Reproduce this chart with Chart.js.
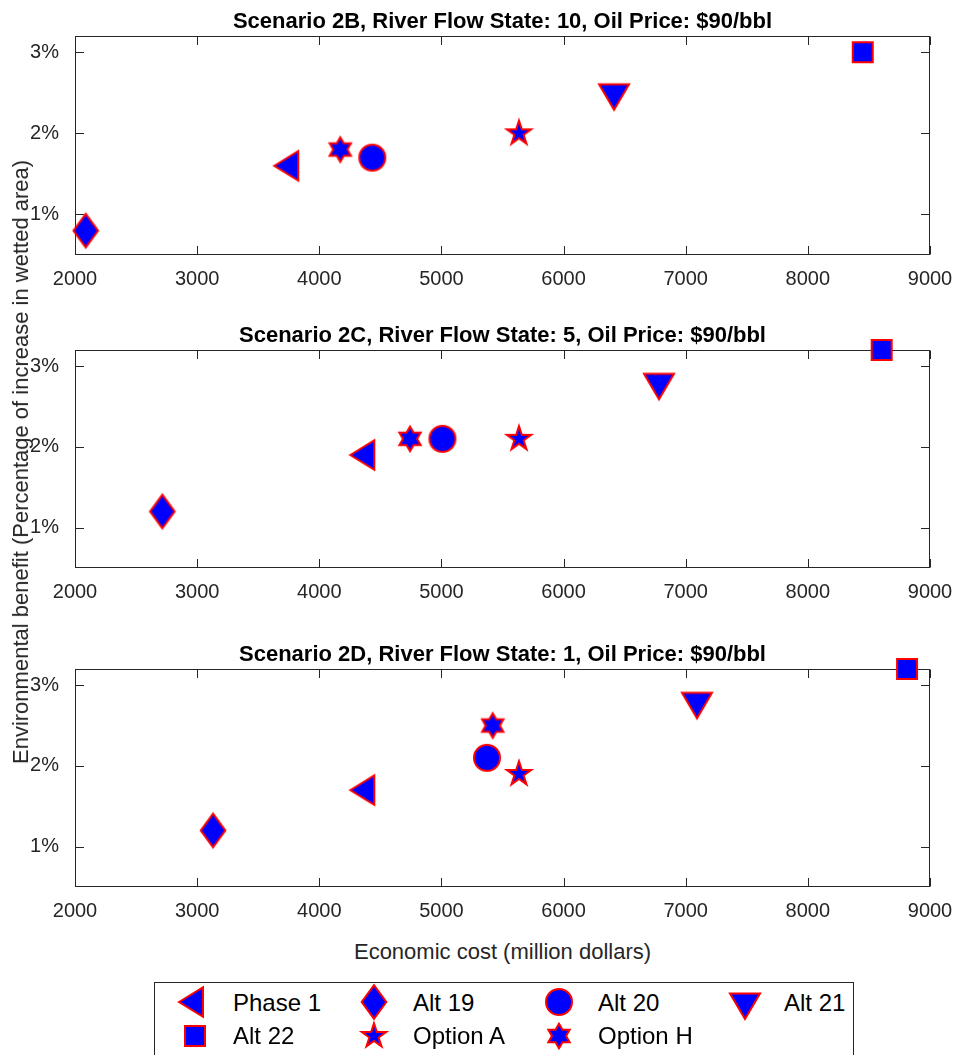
<!DOCTYPE html>
<html>
<head>
<meta charset="utf-8">
<script src="https://cdn.jsdelivr.net/npm/chart.js@4.4.1/dist/chart.umd.min.js"></script>
<style>
html,body{margin:0;padding:0;background:#fff;overflow:hidden;width:959px;height:1055px;}
#wrap{position:relative;width:959px;height:1055px;overflow:hidden;font-family:"Liberation Sans",Arial,Helvetica,sans-serif;}
canvas.panel{position:absolute;left:0;}
.ylab{position:absolute;left:21px;top:462px;transform:translate(-50%,-50%) rotate(-90deg);font-size:22px;color:#262626;white-space:nowrap;line-height:22px;}
.xlab{position:absolute;left:502.5px;top:941px;transform:translateX(-50%);font-size:22px;color:#262626;white-space:nowrap;line-height:22px;}
#legend{position:absolute;left:154px;top:982px;width:700px;height:90px;border:1px solid #262626;background:#fff;box-sizing:border-box;}
.lgtext{position:absolute;font-size:24px;line-height:24px;color:#000;white-space:nowrap;}
.lgmark{position:absolute;}
</style>
</head>
<body>
<div id="wrap">
  <canvas id="c0" class="panel"></canvas>
  <canvas id="c1" class="panel"></canvas>
  <canvas id="c2" class="panel"></canvas>
  <div class="ylab" id="ylab"></div>
  <div class="xlab" id="xlab"></div>
  <div id="legend"></div>
</div>
<script>
// ---------------- data ----------------
const seriesNames = ['Phase 1', 'Alt 19', 'Alt 20', 'Alt 21', 'Alt 22', 'Option A', 'Option H'];
const panelTitles = [
  'Scenario 2B, River Flow State: 10, Oil Price: $90/bbl',
  'Scenario 2C, River Flow State: 5, Oil Price: $90/bbl',
  'Scenario 2D, River Flow State: 1, Oil Price: $90/bbl'
];
// Economic cost (million dollars), in series order
const costB = [3762, 2088, 4434, 6413, 8449, 5635, 4172];
const costC = [4385, 2715, 5008, 6781, 8604, 5635, 4743];
const costD = [4385, 3130, 5373, 7092, 8812, 5635, 5420];
// Environmental benefit (%), in series order
const benefitB = [1.6, 0.8, 1.7, 2.5, 3.0, 2.0, 1.8];
const benefitC = [1.9, 1.2, 2.1, 2.8, 3.2, 2.1, 2.1];
const benefitD = [1.7, 1.2, 2.1, 2.8, 3.2, 1.9, 2.5];
const xTicks = [2000, 3000, 4000, 5000, 6000, 7000, 8000, 9000];
const yTicks = [1, 2, 3];
const xRange = [2000, 9000];
const yRange = [0.5, 3.2];
const xLabel = 'Economic cost (million dollars)';
const yLabel = 'Environmental benefit (Percentage of increase in wetted area)';

// ---------------- styling ----------------
const FONT = '"Liberation Sans", Arial, Helvetica, sans-serif';
const AXIS_COLOR = '#262626';
const markerKinds = ['triLeft', 'diamond', 'circle', 'triDown', 'square', 'pentagram', 'hexagram'];

function starPath(g, n, R, r) {
  for (let i = 0; i < 2 * n; i++) {
    const ang = -Math.PI / 2 + i * Math.PI / n;
    const rad = (i % 2 === 0) ? R : r;
    const px = rad * Math.cos(ang), py = rad * Math.sin(ang);
    if (i === 0) g.moveTo(px, py); else g.lineTo(px, py);
  }
  g.closePath();
}

function makeMarker(kind) {
  const S = 46;
  const c = document.createElement('canvas');
  c.width = S; c.height = S;
  const g = c.getContext('2d');
  g.translate(S / 2, S / 2);
  g.beginPath();
  if (kind === 'circle') {
    g.arc(0, 0, 13, 0, Math.PI * 2);
  } else if (kind === 'square') {
    g.rect(-10, -10, 20, 20);
  } else if (kind === 'diamond') {
    g.moveTo(0, -16.8); g.lineTo(12.3, 0); g.lineTo(0, 16.8); g.lineTo(-12.3, 0); g.closePath();
  } else if (kind === 'triLeft') {
    const w = 24, h = 14.8;
    g.moveTo(-2 * w / 3, 0); g.lineTo(w / 3, -h); g.lineTo(w / 3, h); g.closePath();
  } else if (kind === 'triDown') {
    const hw = 15, ht = 25.5;
    g.moveTo(-hw, -ht / 3); g.lineTo(hw, -ht / 3); g.lineTo(0, 2 * ht / 3); g.closePath();
  } else if (kind === 'pentagram') {
    starPath(g, 5, 12.8, 12.8 * 0.382);
  } else if (kind === 'hexagram') {
    starPath(g, 6, 12.3, 12.3 / Math.sqrt(3));
  }
  g.fillStyle = '#0000ff';
  g.fill();
  g.lineJoin = 'miter';
  g.miterLimit = 10;
  g.lineWidth = 2;
  g.strokeStyle = '#ff0000';
  g.stroke();
  return c;
}
const markerImages = markerKinds.map(makeMarker);

// ---------------- plugin: MATLAB-style box, inward ticks, title ----------------
const framePlugin = {
  id: 'matlabFrame',
  beforeDatasetsDraw(chart) {
    const {ctx, chartArea: a, scales: {x, y}} = chart;
    const L = Math.round(a.left) + 0.5, R = Math.round(a.right) - 0.5;
    const T = Math.round(a.top) + 0.5, B = Math.round(a.bottom) - 0.5;
    const tl = 8.5;
    ctx.save();
    ctx.strokeStyle = AXIS_COLOR;
    ctx.lineWidth = 1;
    ctx.beginPath();
    x.ticks.forEach(t => {
      const px = Math.round(x.getPixelForValue(t.value)) + 0.5;
      ctx.moveTo(px, B); ctx.lineTo(px, B - tl);
      ctx.moveTo(px, T); ctx.lineTo(px, T + tl);
    });
    y.ticks.forEach(t => {
      const py = Math.round(y.getPixelForValue(t.value)) + 0.5;
      ctx.moveTo(L, py); ctx.lineTo(L + tl, py);
      ctx.moveTo(R, py); ctx.lineTo(R - tl, py);
    });
    ctx.stroke();
    ctx.strokeRect(L, T, R - L, B - T);
    ctx.restore();
  },
  afterDraw(chart, args, opts) {
    const {ctx, chartArea: a} = chart;
    ctx.save();
    ctx.font = 'bold 22px ' + FONT;
    ctx.fillStyle = '#000';
    ctx.textAlign = 'center';
    ctx.textBaseline = 'alphabetic';
    ctx.fillText(opts.text, (a.left + a.right) / 2, a.top - 8.5);
    ctx.restore();
  }
};

Chart.defaults.font.family = FONT;
Chart.defaults.color = AXIS_COLOR;

const panels = [
  {cost: costB, benefit: benefitB, title: panelTitles[0], top: 0,   height: 300, padTop: 36},
  {cost: costC, benefit: benefitC, title: panelTitles[1], top: 300, height: 313, padTop: 50},
  {cost: costD, benefit: benefitD, title: panelTitles[2], top: 613, height: 319, padTop: 56}
];

panels.forEach((p, i) => {
  const cv = document.getElementById('c' + i);
  cv.width = 970; cv.height = p.height;
  cv.style.width = '970px'; cv.style.height = p.height + 'px';
  cv.style.top = p.top + 'px';
  const datasets = seriesNames.map((name, k) => ({
    label: name,
    data: [{x: p.cost[k], y: p.benefit[k]}],
    pointStyle: markerImages[k],
    pointRadius: 14,
    pointHoverRadius: 14,
    clip: false
  }));
  new Chart(cv, {
    type: 'scatter',
    data: {datasets},
    plugins: [framePlugin],
    options: {
      responsive: false,
      animation: false,
      events: [],
      devicePixelRatio: 1,
      layout: {padding: {top: p.padTop, left: 0, right: 40, bottom: 0}},
      plugins: {
        legend: {display: false},
        tooltip: {enabled: false},
        title: {display: false},
        matlabFrame: {text: p.title}
      },
      scales: {
        x: {
          type: 'linear',
          min: xRange[0], max: xRange[1],
          grid: {display: false},
          border: {display: false},
          afterBuildTicks: s => { s.ticks = xTicks.map(v => ({value: v})); },
          afterFit: s => { s.height = 45; },
          ticks: {
            font: {size: 20},
            color: AXIS_COLOR,
            padding: 4,
            maxRotation: 0,
            autoSkip: false,
            callback: v => String(v)
          }
        },
        y: {
          type: 'linear',
          min: yRange[0], max: yRange[1],
          grid: {display: false},
          border: {display: false},
          afterBuildTicks: s => { s.ticks = yTicks.map(v => ({value: v})); },
          afterFit: s => { s.width = 75; },
          ticks: {
            font: {size: 20},
            color: AXIS_COLOR,
            padding: 8,
            autoSkip: false,
            callback: v => v + '%'
          }
        }
      }
    }
  });
});

document.getElementById('ylab').textContent = yLabel;
document.getElementById('xlab').textContent = xLabel;

// ---------------- legend ----------------
const legend = document.getElementById('legend');
const lgLeft = 154, lgTop = 982;
const markerCX = [194.5, 373.5, 559, 744.5];
const textX = [233, 413, 598, 784];
const rowCY = [1002, 1036];
const rowTextCY = [1003, 1036];
seriesNames.forEach((name, k) => {
  const col = k % 4, row = Math.floor(k / 4);
  const src = markerImages[k];
  const m = document.createElement('canvas');
  m.width = src.width; m.height = src.height;
  m.getContext('2d').drawImage(src, 0, 0);
  m.className = 'lgmark';
  m.style.left = (markerCX[col] - lgLeft - 1 - src.width / 2) + 'px';
  m.style.top = (rowCY[row] - lgTop - 1 - src.height / 2) + 'px';
  legend.appendChild(m);
  const t = document.createElement('div');
  t.className = 'lgtext';
  t.textContent = name;
  t.style.left = (textX[col] - lgLeft - 1) + 'px';
  t.style.top = (rowTextCY[row] - lgTop - 1 - 12) + 'px';
  legend.appendChild(t);
});
</script>
</body>
</html>
